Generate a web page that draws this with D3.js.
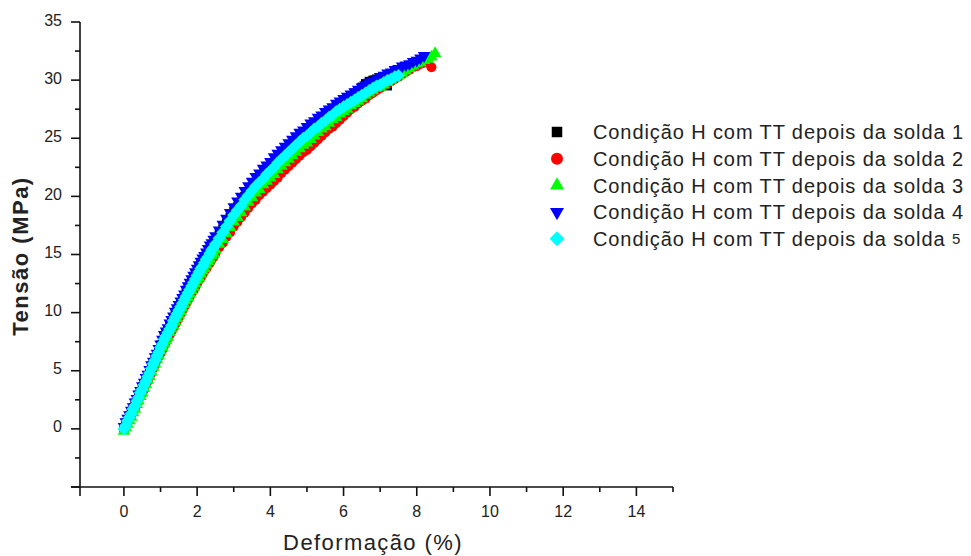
<!DOCTYPE html>
<html><head><meta charset="utf-8">
<script src="https://cdn.jsdelivr.net/npm/d3@7"></script>
<style>
html,body{margin:0;padding:0;background:#fff;}
svg{display:block;font-family:"Liberation Sans",Arial,sans-serif;}
</style></head>
<body>
<svg id="chart" width="971" height="556"></svg>
<script>
// ---- data ----
const strain = [0,0.05,0.1,0.15,0.2,0.25,0.3,0.35,0.4,0.45,0.5,0.55,0.6,0.65,0.7,0.75,0.8,0.85,0.9,0.95,1,1.05,1.1,1.15,1.2,1.25,1.3,1.35,1.4,1.45,1.5,1.55,1.6,1.65,1.7,1.75,1.8,1.85,1.9,1.95,2,2.05,2.1,2.15,2.2,2.25,2.3,2.35,2.4,2.45,2.5,2.6,2.7,2.8,2.9,3,3.1,3.2,3.3,3.4,3.5,3.6,3.7,3.8,3.9,4,4.1,4.2,4.3,4.4,4.5,4.6,4.7,4.8,4.9,5,5.1,5.2,5.3,5.4,5.5,5.6,5.7,5.8,5.9,6,6.1,6.2,6.3,6.4,6.5,6.6,6.7,6.8,6.9,7,7.1,7.2,7.3,7.4,7.5,7.6,7.7,7.8,7.9,8,8.1,8.2,8.3,8.4,8.5];

const stress1 = [0.1,0.5,0.8,1.1,1.5,1.8,2.2,2.5,2.9,3.2,
3.6,3.9,4.3,4.6,5.0,5.4,5.7,6.1,6.4,6.8,
7.2,7.5,7.9,8.2,8.5,8.8,9.2,9.5,9.8,10.1,
10.4,10.7,11.0,11.3,11.7,12.0,12.3,12.6,12.9,13.2,
13.5,13.8,14.1,14.3,14.6,14.9,15.1,15.4,15.7,15.9,
16.2,
16.7,17.2,17.7,18.2,18.7,
19.1,19.5,20.0,20.4,20.8,21.2,21.5,21.9,22.2,22.5,
22.8,23.2,23.5,23.8,24.1,24.4,24.7,25.0,25.3,25.5,
25.8,26.1,26.3,26.6,26.9,27.1,27.4,27.7,27.9,28.2,
28.4,28.6,28.9,29.1,29.4,29.7,29.9,30.0,30.1,30.2,
30.2,29.5];

const stress2 = [0,0.3,0.6,0.9,1.2,1.5,1.8,2.2,2.5,2.8,
3.1,3.4,3.8,4.1,4.5,4.8,5.2,5.5,5.9,6.2,
6.5,6.8,7.2,7.5,7.8,8.1,8.4,8.7,9.0,9.3,
9.6,9.9,10.2,10.5,10.8,11.1,11.4,11.7,11.9,12.2,
12.5,12.8,13.0,13.3,13.6,13.8,14.1,14.3,14.6,14.8,
15.1,
15.6,16.0,16.5,16.9,17.4,
17.8,18.2,18.6,19.0,19.4,19.7,20.1,20.4,20.7,21.0,
21.3,21.6,22.0,22.3,22.6,22.9,23.2,23.5,23.8,24.0,
24.3,24.6,24.9,25.2,25.5,25.8,26.0,26.3,26.6,26.9,
27.2,27.5,27.7,28.0,28.2,28.4,28.7,28.9,29.1,29.3,
29.5,29.7,29.9,30.1,30.3,30.5,30.7,30.9,31.1,31.2,
31.4,31.5,31.7,31.1];

const stress3 = [-0.2,0.1,0.4,0.7,1.0,1.4,1.7,2.1,2.4,2.8,
3.1,3.5,3.8,4.2,4.5,4.9,5.3,5.6,6.0,6.3,
6.7,7.0,7.3,7.6,7.9,8.3,8.6,8.9,9.2,9.5,
9.8,10.1,10.4,10.7,11.0,11.3,11.6,11.9,12.2,12.5,
12.8,13.0,13.3,13.6,13.8,14.1,14.4,14.6,14.9,15.1,
15.4,
15.9,16.3,16.8,17.3,17.8,
18.2,18.6,19.1,19.5,19.9,20.3,20.6,21.0,21.3,21.6,
21.9,22.3,22.6,22.9,23.2,23.5,23.8,24.1,24.4,24.6,
24.9,25.2,25.5,25.8,26.0,26.3,26.6,26.8,27.1,27.3,
27.5,27.8,28.0,28.2,28.4,28.7,28.9,29.1,29.3,29.4,
29.6,29.8,30.0,30.2,30.4,30.6,30.8,31.0,31.2,31.4,
31.5,31.7,31.8,32.0,32.3];

const stress4 = [0.2,0.6,0.9,1.2,1.6,1.9,2.3,2.6,3.0,3.3,
3.7,4.0,4.4,4.7,5.1,5.5,5.8,6.2,6.5,6.9,
7.3,7.7,8.1,8.4,8.7,9.1,9.4,9.7,10.1,10.4,
10.7,11.0,11.3,11.6,12.0,12.3,12.6,12.9,13.2,13.5,
13.8,14.1,14.4,14.7,14.9,15.2,15.5,15.8,16.0,16.3,
16.6,
17.1,17.6,18.1,18.6,19.1,
19.6,20.0,20.5,20.9,21.3,21.7,22.0,22.4,22.7,23.0,
23.4,23.7,24.0,24.3,24.6,24.9,25.2,25.5,25.7,26.0,
26.3,26.5,26.8,27.0,27.3,27.5,27.7,28.0,28.2,28.4,
28.6,28.8,29.0,29.2,29.4,29.6,29.8,29.9,30.1,30.3,
30.4,30.6,30.7,30.9,31.0,31.2,31.3,31.4,31.6,31.7,
31.9,32.1];

const stress5 = [0,0.3,0.7,1.0,1.3,1.7,2.0,2.4,2.7,3.1,
3.4,3.8,4.1,4.5,4.8,5.2,5.6,5.9,6.3,6.6,
7.0,7.3,7.7,8.0,8.3,8.6,8.9,9.3,9.6,9.9,
10.2,10.5,10.8,11.1,11.4,11.7,12.0,12.3,12.6,12.9,
13.2,13.5,13.8,14.0,14.3,14.6,14.8,15.1,15.4,15.6,
15.9,
16.4,16.9,17.4,17.9,18.4,
18.8,19.2,19.7,20.1,20.5,20.9,21.2,21.5,21.9,22.2,
22.5,22.9,23.2,23.5,23.8,24.1,24.4,24.7,25.0,25.2,
25.5,25.8,26.0,26.3,26.5,26.8,27.0,27.3,27.5,27.7,
27.9,28.1,28.3,28.5,28.7,28.9,29.1,29.3,29.5,29.6,
29.8,30.0,30.1,30.3,30.4];

const seriesNames = ["Condição H com TT depois da solda 1","Condição H com TT depois da solda 2","Condição H com TT depois da solda 3","Condição H com TT depois da solda 4","Condição H com TT depois da solda "];
const seriesSuffix = ["","","","","5"];
const seriesColors = ["#000000","#ff0000","#00ff00","#0000ff","#00ffff"];
const seriesShapes = ["square","circle","triangleUp","triangleDown","diamond"];
const xTicks = [0,2,4,6,8,10,12,14];
const xMinorTicks = [1,3,5,7,9,11,13,15];
const yTicks = [0,5,10,15,20,25,30,35];
const yMinorTicks = [-2.5,2.5,7.5,12.5,17.5,22.5,27.5,32.5];
const xTitle = "Deformação (%)";
const yTitle = "Tensão (MPa)";

// ---- chart ----
const stressArrays = [stress1,stress2,stress3,stress4,stress5];
const svg = d3.select("#chart");
const x = d3.scaleLinear().domain([-1.2,15]).range([80,673]);
const y = d3.scaleLinear().domain([-5,35]).range([487,22]);

function shapePath(shape, s){
  if(shape==="square"){const h=s/2;return `M${-h},${-h}H${h}V${h}H${-h}Z`;}
  if(shape==="circle"){const r=s/2;return `M${r},0A${r},${r} 0 1,1 ${-r},0A${r},${r} 0 1,1 ${r},0Z`;}
  if(shape==="triangleUp"){const H=s*Math.sqrt(3)/2;return `M0,${-2*H/3}L${s/2},${H/3}L${-s/2},${H/3}Z`;}
  if(shape==="triangleDown"){const H=s*Math.sqrt(3)/2;return `M0,${2*H/3}L${s/2},${-H/3}L${-s/2},${-H/3}Z`;}
  if(shape==="diamond"){const d=s/2;return `M0,${-d}L${d},0L0,${d}L${-d},0Z`;}
}
const plotSize = {square:9,circle:10,triangleUp:12.5,triangleDown:12.5,diamond:13};
const legSize = {square:10.5,circle:12,triangleUp:14,triangleDown:14,diamond:15};

// series
stressArrays.forEach((arr,i)=>{
  const pts = arr.map((v,j)=>({e:strain[j], s:v}));
  svg.append("g").selectAll("path").data(pts).join("path")
    .attr("d", shapePath(seriesShapes[i], plotSize[seriesShapes[i]]))
    .attr("transform", d=>`translate(${x(d.e)},${y(d.s)})`)
    .attr("fill", seriesColors[i]);
});

// axes
const axG = svg.append("g").attr("stroke","#111").attr("stroke-width",1.6).attr("fill","none");
axG.append("line").attr("x1",x(-1.2)).attr("x2",x(-1.2)).attr("y1",y(35)).attr("y2",y(-5)+9);
axG.append("line").attr("x1",x(-1.2)-9).attr("x2",x(15)).attr("y1",y(-5)).attr("y2",y(-5));
[...yTicks,-5].forEach(t=>axG.append("line").attr("x1",x(-1.2)-9).attr("x2",x(-1.2)).attr("y1",y(t)).attr("y2",y(t)));
yMinorTicks.forEach(t=>axG.append("line").attr("x1",x(-1.2)-5).attr("x2",x(-1.2)).attr("y1",y(t)).attr("y2",y(t)));
xTicks.forEach(t=>axG.append("line").attr("x1",x(t)).attr("x2",x(t)).attr("y1",y(-5)).attr("y2",y(-5)+9));
xMinorTicks.forEach(t=>axG.append("line").attr("x1",x(t)).attr("x2",x(t)).attr("y1",y(-5)).attr("y2",y(-5)+5));

const txt = svg.append("g").attr("fill","#222");
yTicks.forEach(t=>txt.append("text").attr("x",62).attr("y",y(t)+3.5).attr("text-anchor","end").attr("font-size",16).text(t));
xTicks.forEach(t=>txt.append("text").attr("x",x(t)).attr("y",517).attr("text-anchor","middle").attr("font-size",16).text(t));

txt.append("text").attr("x",373).attr("y",550).attr("text-anchor","middle").attr("font-size",22)
  .attr("letter-spacing","1.4px").text(xTitle);
txt.append("text").attr("transform","translate(28,256) rotate(-90)").attr("text-anchor","middle")
  .attr("font-size",22).attr("font-weight","bold").attr("letter-spacing","1.5px").text(yTitle);

// legend
const leg = svg.append("g");
seriesNames.forEach((n,i)=>{
  const base = 139.3 + i*26.7;
  leg.append("path").attr("d", shapePath(seriesShapes[i], legSize[seriesShapes[i]]))
    .attr("transform",`translate(557,${base-7.3})`).attr("fill",seriesColors[i]);
  const t = leg.append("text").attr("x",593).attr("y",base).attr("font-size",20)
    .attr("letter-spacing","0.9px").attr("fill","#222").text(n);
  if(seriesSuffix[i]) t.append("tspan").attr("font-size",15).attr("dy",-2).text(seriesSuffix[i]);
});
</script>
</body></html>
